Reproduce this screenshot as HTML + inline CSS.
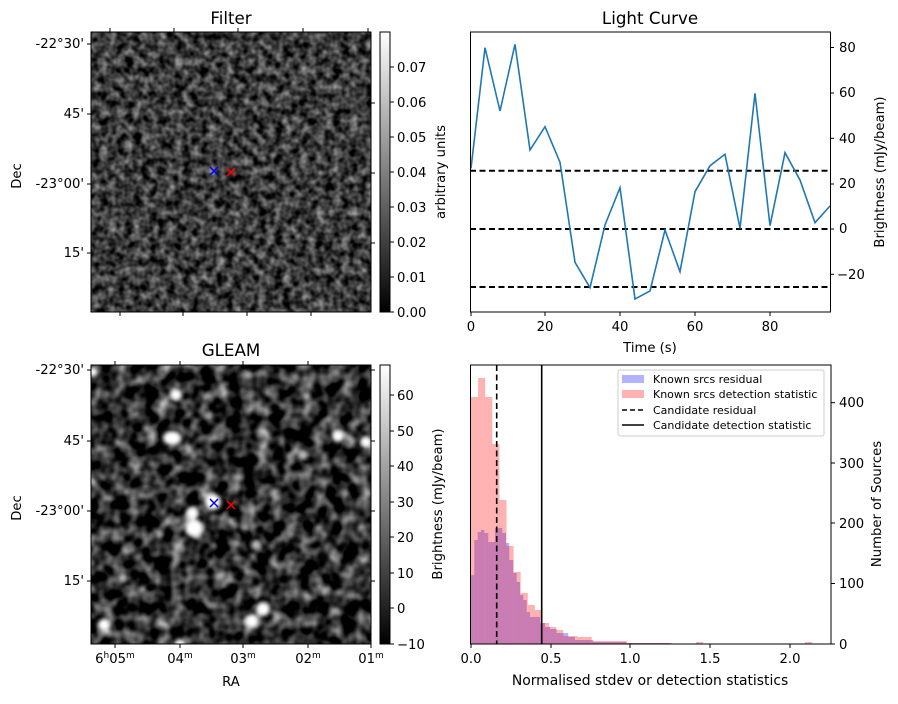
<!DOCTYPE html>
<html><head><meta charset="utf-8"><style>
body{margin:0;background:#fff;}
svg text{font-family:"DejaVu Sans","Liberation Sans",sans-serif;fill:#000;}
</style></head><body>
<svg width="898" height="699" viewBox="0 0 898 699" xmlns="http://www.w3.org/2000/svg">
<defs>
<filter id="n1" x="0" y="0" width="100%" height="100%" color-interpolation-filters="sRGB">
<feTurbulence type="fractalNoise" baseFrequency="0.12" numOctaves="2" seed="3"/>
<feColorMatrix type="matrix" values="1 0 0 0 0 1 0 0 0 0 1 0 0 0 0 0 0 0 0 1"/>
<feComponentTransfer><feFuncR type="linear" slope="0.95" intercept="-0.24"/><feFuncG type="linear" slope="0.95" intercept="-0.24"/><feFuncB type="linear" slope="0.95" intercept="-0.24"/></feComponentTransfer>
</filter>
<filter id="n2" x="0" y="0" width="100%" height="100%" color-interpolation-filters="sRGB">
<feTurbulence type="fractalNoise" baseFrequency="0.07" numOctaves="2" seed="9"/>
<feColorMatrix type="matrix" values="1 0 0 0 0 1 0 0 0 0 1 0 0 0 0 0 0 0 0 1"/>
<feComponentTransfer><feFuncR type="linear" slope="1.4" intercept="-0.52"/><feFuncG type="linear" slope="1.4" intercept="-0.52"/><feFuncB type="linear" slope="1.4" intercept="-0.52"/></feComponentTransfer>
</filter>
<filter id="bl" x="-50%" y="-50%" width="200%" height="200%"><feGaussianBlur stdDeviation="2"/></filter>
<linearGradient id="cg" x1="0" y1="1" x2="0" y2="0"><stop offset="0" stop-color="#000"/><stop offset="1" stop-color="#fff"/></linearGradient>
<clipPath id="c2"><rect x="91" y="365" width="280" height="279"/></clipPath>
</defs>

<!-- Filter image -->
<text x="231" y="24" font-size="16.7" text-anchor="middle">Filter</text>
<rect x="91" y="32" width="280" height="280" filter="url(#n1)"/>
<rect x="91" y="32" width="280" height="280" fill="none" stroke="#000" stroke-width="1"/>
<g stroke="#000" stroke-width="1">
<line x1="87" y1="44" x2="91" y2="44"/><line x1="87" y1="114" x2="91" y2="114"/><line x1="87" y1="184" x2="91" y2="184"/><line x1="87" y1="253" x2="91" y2="253"/>
<line x1="371" y1="103" x2="375" y2="103"/><line x1="371" y1="173" x2="375" y2="173"/><line x1="371" y1="243" x2="375" y2="243"/>
<line x1="110" y1="28" x2="110" y2="32"/><line x1="174" y1="28" x2="174" y2="32"/><line x1="238" y1="28" x2="238" y2="32"/><line x1="303" y1="28" x2="303" y2="32"/><line x1="368" y1="28" x2="368" y2="32"/>
<line x1="120" y1="312" x2="120" y2="316"/><line x1="183" y1="312" x2="183" y2="316"/><line x1="247" y1="312" x2="247" y2="316"/><line x1="311" y1="312" x2="311" y2="316"/>
</g>
<g font-size="13.2" text-anchor="end">
<text x="84" y="48">-22°30'</text><text x="84" y="118">45'</text><text x="84" y="188">-23°00'</text><text x="84" y="257">15'</text>
</g>
<text transform="translate(21,176) rotate(-90)" font-size="13.2" text-anchor="middle">Dec</text>
<g stroke-width="1.5"><path d="M210 167 L218 175 M218 167 L210 175" stroke="#00f"/><path d="M227 168 L235 176 M235 168 L227 176" stroke="#f00"/></g>

<!-- colorbar 1 -->
<rect x="380" y="32" width="10" height="280" fill="url(#cg)" stroke="#000" stroke-width="1"/>
<g stroke="#000"><line x1="390" y1="312" x2="394" y2="312"/><line x1="390" y1="277" x2="394" y2="277"/><line x1="390" y1="242" x2="394" y2="242"/><line x1="390" y1="207" x2="394" y2="207"/><line x1="390" y1="172" x2="394" y2="172"/><line x1="390" y1="137" x2="394" y2="137"/><line x1="390" y1="102" x2="394" y2="102"/><line x1="390" y1="67" x2="394" y2="67"/></g>
<g font-size="13.2"><text x="397" y="317">0.00</text><text x="397" y="282">0.01</text><text x="397" y="247">0.02</text><text x="397" y="212">0.03</text><text x="397" y="177">0.04</text><text x="397" y="142">0.05</text><text x="397" y="107">0.06</text><text x="397" y="72">0.07</text></g>
<text transform="translate(445,172) rotate(-90)" font-size="13.2" text-anchor="middle">arbitrary units</text>

<!-- GLEAM -->
<text x="231" y="356" font-size="16.7" text-anchor="middle">GLEAM</text>
<rect x="91" y="365" width="280" height="279" filter="url(#n2)"/>
<g clip-path="url(#c2)" fill="#fff" filter="url(#bl)">
<ellipse cx="172" cy="438" rx="9" ry="7"/><circle cx="338" cy="436" r="6"/><circle cx="366" cy="442" r="6"/>
<circle cx="213" cy="502" r="8"/><circle cx="192" cy="513" r="6"/><circle cx="194" cy="528" r="9"/>
<circle cx="176" cy="395" r="6"/><circle cx="263" cy="609" r="7"/><circle cx="252" cy="621" r="7"/>
<circle cx="104" cy="625" r="6"/><circle cx="180" cy="645" r="6"/><circle cx="93" cy="372" r="5"/>
<circle cx="123" cy="578" r="4" fill="#bbb"/><circle cx="303" cy="455" r="5" fill="#bbb"/><circle cx="256" cy="545" r="5" fill="#bbb"/><circle cx="248" cy="375" r="4" fill="#aaa"/><circle cx="295" cy="377" r="4" fill="#999"/><circle cx="245" cy="527" r="4" fill="#999"/>
</g>
<rect x="91" y="365" width="280" height="279" fill="none" stroke="#000"/>
<g stroke="#000">
<line x1="87" y1="370" x2="91" y2="370"/><line x1="87" y1="441" x2="91" y2="441"/><line x1="87" y1="511" x2="91" y2="511"/><line x1="87" y1="581" x2="91" y2="581"/>
<line x1="371" y1="370" x2="375" y2="370"/><line x1="371" y1="441" x2="375" y2="441"/><line x1="371" y1="511" x2="375" y2="511"/><line x1="371" y1="581" x2="375" y2="581"/>
<line x1="115" y1="365" x2="115" y2="361"/><line x1="180" y1="365" x2="180" y2="361"/><line x1="243" y1="365" x2="243" y2="361"/><line x1="308" y1="365" x2="308" y2="361"/>
<line x1="115" y1="644" x2="115" y2="648"/><line x1="180" y1="644" x2="180" y2="648"/><line x1="243" y1="644" x2="243" y2="648"/><line x1="308" y1="644" x2="308" y2="648"/><line x1="371" y1="644" x2="371" y2="648"/>
</g>
<g font-size="13.2" text-anchor="end">
<text x="84" y="374">-22°30'</text><text x="84" y="445">45'</text><text x="84" y="515">-23°00'</text><text x="84" y="585">15'</text>
</g>
<text transform="translate(21,508) rotate(-90)" font-size="13.2" text-anchor="middle">Dec</text>
<g font-size="13.2" text-anchor="middle">
<text x="115" y="663">6<tspan font-size="9" dy="-5">h</tspan><tspan dy="5">05</tspan><tspan font-size="9" dy="-5">m</tspan></text>
<text x="180" y="663">04<tspan font-size="9" dy="-5">m</tspan></text>
<text x="243" y="663">03<tspan font-size="9" dy="-5">m</tspan></text>
<text x="308" y="663">02<tspan font-size="9" dy="-5">m</tspan></text>
<text x="371" y="663">01<tspan font-size="9" dy="-5">m</tspan></text>
</g>
<text x="231" y="686" font-size="13.2" text-anchor="middle">RA</text>
<g stroke-width="1.5"><path d="M210 499 L218 507 M218 499 L210 507" stroke="#00f"/><path d="M227 501 L235 509 M235 501 L227 509" stroke="#f00"/></g>

<!-- colorbar 2 -->
<rect x="380" y="365" width="10" height="279" fill="url(#cg)" stroke="#000"/>
<g stroke="#000"><line x1="390" y1="644" x2="394" y2="644"/><line x1="390" y1="608" x2="394" y2="608"/><line x1="390" y1="573" x2="394" y2="573"/><line x1="390" y1="537" x2="394" y2="537"/><line x1="390" y1="502" x2="394" y2="502"/><line x1="390" y1="466" x2="394" y2="466"/><line x1="390" y1="431" x2="394" y2="431"/><line x1="390" y1="395" x2="394" y2="395"/></g>
<g font-size="13.2"><text x="397" y="649">−10</text><text x="397" y="613">0</text><text x="397" y="578">10</text><text x="397" y="542">20</text><text x="397" y="507">30</text><text x="397" y="471">40</text><text x="397" y="436">50</text><text x="397" y="400">60</text></g>

<!-- Light curve -->
<text x="650" y="24" font-size="16.7" text-anchor="middle">Light Curve</text>
<g stroke="#000" stroke-width="2" stroke-dasharray="6,3.5">
<line x1="470" y1="170.7" x2="830" y2="170.7"/><line x1="470" y1="229" x2="830" y2="229"/><line x1="470" y1="287" x2="830" y2="287"/>
</g>
<polyline fill="none" stroke="#1f77b4" stroke-width="1.6" points="471,168.3 485,47.7 500,111 515,44.3 530,150 545,126.7 560,162.3 575,262.3 590,287.7 605,225 620,187.7 635,299 650,291 665,230 680,271.7 695,191.7 710,165.7 725,154.3 740,228.3 755,93.3 770,225.7 785,152.7 800,180 815,222.7 830,206"/>
<rect x="470.5" y="32" width="360" height="280" fill="none" stroke="#000"/>
<g stroke="#000">
<line x1="471" y1="312" x2="471" y2="316"/><line x1="545" y1="312" x2="545" y2="316"/><line x1="620" y1="312" x2="620" y2="316"/><line x1="695" y1="312" x2="695" y2="316"/><line x1="770" y1="312" x2="770" y2="316"/>
<line x1="830" y1="47.5" x2="834" y2="47.5"/><line x1="830" y1="93" x2="834" y2="93"/><line x1="830" y1="138.3" x2="834" y2="138.3"/><line x1="830" y1="184" x2="834" y2="184"/><line x1="830" y1="229" x2="834" y2="229"/><line x1="830" y1="274.3" x2="834" y2="274.3"/>
</g>
<g font-size="13.2" text-anchor="middle"><text x="471" y="331">0</text><text x="545" y="331">20</text><text x="620" y="331">40</text><text x="695" y="331">60</text><text x="770" y="331">80</text></g>
<text x="650" y="352" font-size="13.2" text-anchor="middle">Time (s)</text>
<g font-size="13.2"><text x="839" y="52">80</text><text x="839" y="97">60</text><text x="839" y="143">40</text><text x="839" y="188">20</text><text x="839" y="233">0</text><text x="837" y="279">−20</text></g>
<text transform="translate(884,172) rotate(-90)" font-size="13.2" text-anchor="middle">Brightness (mJy/beam)</text>

<!-- Histogram -->
<g fill="rgb(0,0,255)" fill-opacity="0.3">
<rect x="471" y="575" width="3.3" height="69"/><rect x="474.3" y="540" width="3.4" height="104"/><rect x="477.7" y="532" width="3.3" height="112"/><rect x="481" y="530" width="3.3" height="114"/><rect x="484.3" y="533" width="4" height="111"/><rect x="488.3" y="542" width="6.7" height="102"/><rect x="495" y="528" width="7.3" height="116"/><rect x="502.3" y="533" width="3.7" height="111"/><rect x="506" y="543" width="3.3" height="101"/><rect x="509.3" y="560" width="4" height="84"/><rect x="513.3" y="573" width="3.4" height="71"/><rect x="516.7" y="582" width="3.3" height="62"/><rect x="520" y="595" width="3.3" height="49"/><rect x="523.3" y="600" width="3.4" height="44"/><rect x="526.7" y="612" width="3.3" height="32"/><rect x="530" y="617" width="10" height="27"/><rect x="540" y="623" width="5" height="21"/><rect x="545" y="627" width="5" height="17"/><rect x="550" y="629" width="6.7" height="15"/><rect x="556.7" y="633" width="11.6" height="11"/><rect x="568.3" y="637" width="6.7" height="7"/><rect x="575" y="640" width="18.3" height="4"/><rect x="593.3" y="642" width="33.4" height="2"/><rect x="626.7" y="643" width="43" height="1"/>
</g>
<g fill="rgb(255,0,0)" fill-opacity="0.3">
<rect x="471" y="397" width="7.1" height="247"/><rect x="478.1" y="378" width="7.1" height="266"/><rect x="485.2" y="397" width="7.1" height="247"/><rect x="492.3" y="444" width="7.1" height="200"/><rect x="499.4" y="500" width="7.1" height="144"/><rect x="506.5" y="546" width="7.1" height="98"/><rect x="513.6" y="572" width="7.1" height="72"/><rect x="520.7" y="593" width="7.1" height="51"/><rect x="527.8" y="605" width="7.1" height="39"/><rect x="534.9" y="610" width="7.1" height="34"/><rect x="542" y="623" width="7.1" height="21"/><rect x="549.1" y="627" width="7.1" height="17"/><rect x="556.2" y="630" width="7.1" height="14"/><rect x="563.3" y="636" width="14.2" height="8"/><rect x="577.5" y="637" width="14.2" height="7"/><rect x="591.7" y="641" width="35" height="3"/><rect x="627" y="643" width="45" height="1"/><rect x="696" y="642" width="7" height="2"/><rect x="805" y="642" width="7" height="2"/>
</g>
<line x1="496.7" y1="365" x2="496.7" y2="644" stroke="#000" stroke-width="1.6" stroke-dasharray="6,3.5"/>
<line x1="541.7" y1="365" x2="541.7" y2="644" stroke="#000" stroke-width="1.6"/>
<rect x="470.5" y="365" width="360.5" height="279" fill="none" stroke="#000"/>
<g stroke="#000">
<line x1="471" y1="644" x2="471" y2="648"/><line x1="551" y1="644" x2="551" y2="648"/><line x1="630" y1="644" x2="630" y2="648"/><line x1="710" y1="644" x2="710" y2="648"/><line x1="790" y1="644" x2="790" y2="648"/>
<line x1="831" y1="644" x2="835" y2="644"/><line x1="831" y1="583.5" x2="835" y2="583.5"/><line x1="831" y1="523" x2="835" y2="523"/><line x1="831" y1="463" x2="835" y2="463"/><line x1="831" y1="402.7" x2="835" y2="402.7"/>
</g>
<g font-size="13.2" text-anchor="middle"><text x="471" y="663">0.0</text><text x="551" y="663">0.5</text><text x="630" y="663">1.0</text><text x="710" y="663">1.5</text><text x="790" y="663">2.0</text></g>
<text x="650" y="685" font-size="13.9" text-anchor="middle">Normalised stdev or detection statistics</text>
<g font-size="13.2"><text x="839" y="649">0</text><text x="839" y="588">100</text><text x="839" y="528">200</text><text x="839" y="468">300</text><text x="839" y="407">400</text></g>
<text transform="translate(881,504) rotate(-90)" font-size="13.2" text-anchor="middle">Number of Sources</text>
<text transform="translate(442,504) rotate(-90)" font-size="13.2" text-anchor="middle">Brightness (mJy/beam)</text>
<!-- legend -->
<rect x="618" y="370" width="206" height="66" rx="2" fill="#fff" fill-opacity="0.8" stroke="#ccc"/>
<rect x="622" y="375" width="22" height="8" fill="rgb(0,0,255)" fill-opacity="0.3"/>
<rect x="622" y="390" width="22" height="8" fill="rgb(255,0,0)" fill-opacity="0.3"/>
<line x1="622" y1="410" x2="644" y2="410" stroke="#000" stroke-width="1.6" stroke-dasharray="5,3"/>
<line x1="622" y1="425" x2="644" y2="425" stroke="#000" stroke-width="1.6"/>
<g font-size="11"><text x="653" y="383">Known srcs residual</text><text x="653" y="398">Known srcs detection statistic</text><text x="653" y="414">Candidate residual</text><text x="653" y="429">Candidate detection statistic</text></g>
</svg>
</body></html>
